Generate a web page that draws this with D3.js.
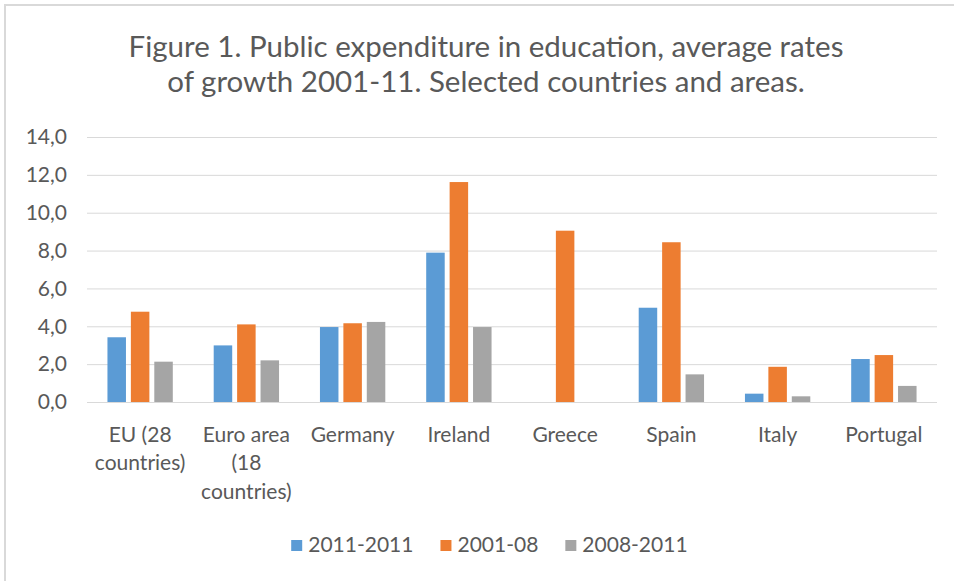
<!DOCTYPE html>
<html>
<head>
<meta charset="utf-8">
<script src="https://cdn.jsdelivr.net/npm/d3@7"></script>
<style>
  body { margin: 0; background: #fff; }
  text { font-family: Lato, "Open Sans", sans-serif; fill: #595959; }
</style>
</head>
<body>
<div id="chart"></div>
<script>
// values (Greece only has 2001-08)
const countries = ["EU (28 countries)", "Euro area (18 countries)", "Germany", "Ireland", "Greece", "Spain", "Italy", "Portugal"];
const countryLines = [["EU (28", "countries)"], ["Euro area", "(18", "countries)"], ["Germany"], ["Ireland"], ["Greece"], ["Spain"], ["Italy"], ["Portugal"]];
const seriesNames = ["2011-2011", "2001-08", "2008-2011"];
const seriesColors = ["#5b9bd5", "#ed7d31", "#a5a5a5"];
const growth2011 = [3.42, 2.99, 3.96, 7.89, null, 4.98, 0.44, 2.27];
const growth0108 = [4.77, 4.10, 4.16, 11.62, 9.05, 8.44, 1.86, 2.48];
const growth0811 = [2.13, 2.20, 4.23, 3.96, null, 1.46, 0.30, 0.85];
const yTicks = [0, 2, 4, 6, 8, 10, 12, 14];
const titleLines = ["Figure 1. Public expenditure in education, average rates", "of growth 2001-11. Selected countries and areas."];

const width = 954, height = 581;
const series = [growth2011, growth0108, growth0811];

const svg = d3.select("#chart").append("svg")
  .attr("width", width)
  .attr("height", height);

// chart frame (only top and left edges show in the picture)
svg.append("path")
  .attr("d", "M5,581V5H954")
  .attr("fill", "none")
  .attr("stroke", "#d9d9d9")
  .attr("stroke-width", 2);

// title
svg.append("g").selectAll("text").data(titleLines).enter().append("text")
  .attr("x", 486)
  .attr("y", (d, i) => 56.7 + i * 35)
  .attr("text-anchor", "middle")
  .style("font-size", "29.5px")
  .text((d) => d);

const x0 = d3.scaleBand().domain(countries).range([87, 937]).paddingInner(0.385).paddingOuter(0.1925);
const x1 = d3.scaleBand().domain(seriesNames).range([0, x0.bandwidth()]).paddingInner(0.21);
const y = d3.scaleLinear().domain([0, 14]).range([402, 137]);

const fmt = d3.formatLocale({ decimal: ",", thousands: ".", grouping: [3], currency: ["", "€"] }).format(".1f");

// gridlines + y labels
const yAxis = svg.append("g")
  .attr("transform", "translate(87,0)")
  .call(d3.axisLeft(y).tickValues(yTicks).tickSize(-850).tickPadding(20).tickFormat(fmt));
yAxis.select(".domain").remove();
yAxis.selectAll("line").attr("stroke", "#d9d9d9");
yAxis.selectAll("text")
  .style("font-size", "21px")
  .style("font-family", "Lato, 'Open Sans', sans-serif")
  .attr("fill", "#595959");

// bars
const groups = svg.append("g").selectAll("g").data(countries).enter().append("g")
  .attr("transform", (d) => `translate(${x0(d)},0)`);

groups.selectAll("rect")
  .data((d, i) => seriesNames.map((s, j) => ({ key: s, value: series[j][i], color: seriesColors[j] })).filter((d) => d.value !== null))
  .enter().append("rect")
  .attr("x", (d) => x1(d.key))
  .attr("width", x1.bandwidth())
  .attr("y", (d) => y(d.value))
  .attr("height", (d) => y(0) - y(d.value))
  .attr("fill", (d) => d.color);

// category labels, wrapped like in Excel
const labels = svg.append("g").selectAll("text").data(countries).enter().append("text")
  .attr("text-anchor", "middle")
  .style("font-size", "21px");

labels.selectAll("tspan")
  .data((d, i) => countryLines[i].map((line) => ({ line, c: d })))
  .enter().append("tspan")
  .attr("x", (d) => x0(d.c) + x0.bandwidth() / 2)
  .attr("y", (d, i) => 441.7 + i * 28.7)
  .text((d) => d.line);

// legend
const legend = svg.append("g");
const items = legend.selectAll("g").data(seriesNames).enter().append("g");
items.append("rect")
  .attr("width", 11)
  .attr("height", 11)
  .attr("y", 540)
  .attr("fill", (d, i) => seriesColors[i]);
items.append("text")
  .attr("x", 17)
  .attr("y", 552)
  .style("font-size", "21px")
  .text((d) => d);

let pos = 0;
items.each(function() {
  const w = d3.select(this).select("text").node().getComputedTextLength();
  d3.select(this).attr("transform", `translate(${pos},0)`);
  pos += 17 + w + 27;
});
const legendWidth = pos - 27;
legend.attr("transform", `translate(${489.4 - legendWidth / 2},0)`);
</script>
</body>
</html>
